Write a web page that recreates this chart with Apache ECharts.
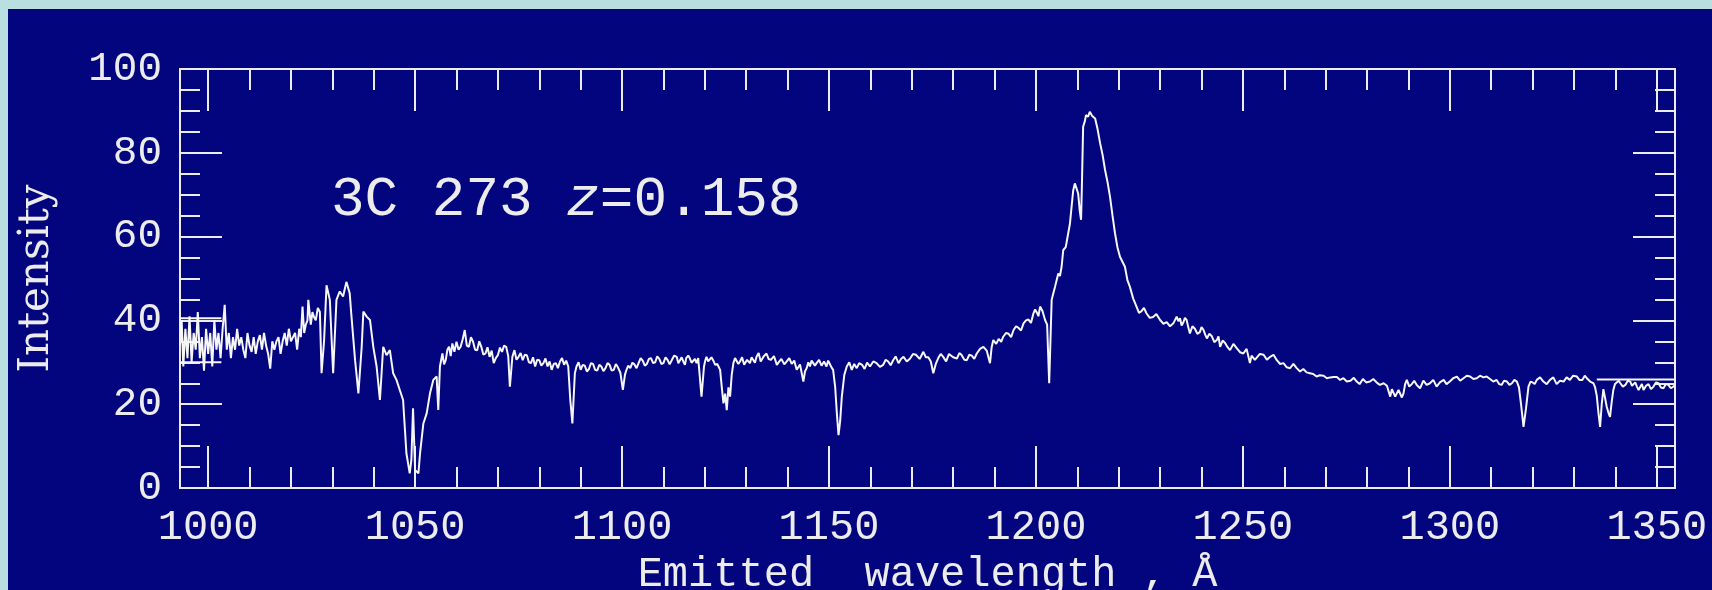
<!DOCTYPE html>
<html>
<head>
<meta charset="utf-8">
<script src="https://cdn.jsdelivr.net/npm/echarts@6/dist/echarts.min.js"></script>
<style>
  html, body { margin: 0; padding: 0; width: 1712px; height: 590px; background: #b9dfe1; overflow: hidden; }
  #chart { position: absolute; left: 8px; top: 9px; width: 1704px; height: 581px; }
</style>
</head>
<body>
<div id="chart"></div>
<script>
// ---- data: [wavelength in Å, intensity] ----
const spectrumBlue = [
  [993.2,34],[993.6,40],[994,29],[994.5,38],[995,31],[995.5,41],[996,30],[996.5,37],[997,33],[997.5,42],
  [998,31],[998.5,36],[999,28],[999.5,38],[1000,32],[1000.5,37],[1001,29],[1001.5,40],[1002,33],[1002.5,37],
  [1003,31],[1003.5,38],[1004,43.7],[1004.5,33],[1005,37],[1005.5,31],[1006,36],[1006.5,33],[1007,38],[1007.5,34],
  [1008,36],[1008.5,33],[1009,31],[1009.5,37],[1010,34],[1010.5,32.5],[1011,36],[1011.5,32],[1012,35],[1012.5,36.5],
  [1013,33],[1013.5,37],[1014,34],[1014.5,32],[1015,28.5],[1015.5,35],[1016,33],[1016.5,35],[1017,36],[1017.5,32],
  [1018,35],[1018.5,37],[1019,34],[1019.5,38],[1020,35],[1020.5,36],[1021,37],[1021.5,33],[1022,38],[1022.4,36],
  [1022.8,43.3],[1023.2,37],[1023.6,39],[1024,40],[1024.2,44.9],[1024.8,39],[1025.2,42],[1025.5,41],[1026,40],[1026.5,43],
  [1027,42],[1027.4,27.4],[1028,35],[1028.6,48.4],[1029.4,44.9],[1030.2,27.4],[1031.0,44.9],[1031.8,46.9],[1032.6,45.7],[1033.4,49.2],
  [1034.2,46.5],[1034.6,41.3],[1035.5,30.5],[1036.3,22.6],[1037.1,33.7],[1037.5,42.1],[1038.3,40.9],[1039.1,40.1],[1039.9,33.7],[1040.7,29],
  [1041.5,21],[1042.3,33.7],[1043.1,31.7],[1043.9,32.9],[1044.7,27.4],[1045.5,25.8],[1046.3,23.4],[1047.1,21],[1047.9,8.3],[1048.7,3.5],
  [1049.1,6.7],[1049.5,19],[1050.0,4.3],[1050.8,3.5],[1051.2,8.3],[1052.0,15.4],[1052.8,17.8],[1053.6,22.6],[1054.4,25.8],[1055.2,26.6],
  [1055.6,18.6]
];
const continuumBlue = [
  [1056.0,29],[1056.6,32.1],[1057.0,29.5],[1057.4,30.5],[1057.8,33],[1058.2,33.7],[1058.6,31.5],[1059,34.5],[1059.5,32.5],[1060,34.9],
  [1060.5,33],[1061,33.7],[1061.5,35.5],[1062,37.7],[1062.5,34],[1063,33.7],[1063.5,36],[1064,34.9],[1064.5,33],[1065,32.9],
  [1065.5,35],[1066,33.7],[1066.5,31.8],[1067,32.1],[1067.5,33.6],[1068,31.3],[1068.5,32.8],[1069,29.8],[1069.5,31],[1070,31.7],
  [1070.5,33.5],[1071,32.5],[1071.5,34],[1072,33.7],[1072.5,31.5],[1072.9,24.2],[1073.5,31.3],[1074,32.9],[1074.5,30.6],[1075,31.3],
  [1075.5,32.2],[1076,30.5],[1076.5,31.8],[1077,31.7],[1077.5,30],[1078,29.8],[1078.5,31.2],[1079,29],[1079.5,30.6],[1080,30.5],
  [1080.5,29.2],[1081,29.8],[1081.5,30.9],[1082,29],[1082.5,30.2],[1083,28.2],[1083.5,29.6],[1084,29.8],[1084.5,28.6],[1085,30.2],
  [1085.5,31],[1086,29.4],[1086.5,30.4],[1087,29],[1087.5,21],[1088,15.4],[1088.6,27.4],[1089,29],[1089.5,30],[1090,28.2],
  [1090.5,29.4],[1091,29.2],[1091.5,27.8],[1092,28.4],[1092.5,29.8],[1093,29.6],[1093.5,28.2],[1094,28],[1094.5,29.4],[1095,29],
  [1095.5,27.9],[1096,28.6],[1096.5,29.8],[1097,29.4],[1097.5,28],[1098,28.2],[1098.5,29.6],[1099,28.8],[1099.6,27.5],[1100.2,23.4],
  [1100.7,27],[1101,28],[1101.5,29.2],[1102,28.6],[1102.5,29.9],[1103,29.5],[1103.5,28.6],[1104,29.8],[1104.5,31],[1105,30.4],
  [1105.5,29.2],[1106,29.6],[1106.5,30.8],[1107,31],[1107.5,29.8],[1108,30],[1108.5,31.4],[1109,30.8],[1109.5,29.6],[1110,29.8],
  [1110.5,31.2],[1111,30.6],[1111.5,29.5],[1112,30.5],[1112.6,31.6],[1113.2,31.3],[1113.6,29.8],[1114,30],[1114.4,31.2],[1114.8,30.2],
  [1115.2,29.4],[1115.5,31],[1116,31.6],[1116.4,30.9],[1116.8,29.9],[1117.2,29.6],[1117.6,30.8],[1118,29.8],[1118.4,31],[1118.7,30.8],
  [1119.2,21.8],[1119.8,29],[1120.1,30.4],[1120.4,31.3],[1120.8,30.2],[1121.2,30],[1121.6,31.2],[1122,30.5],[1122.5,29.4],[1123,29.6],
  [1123.4,30],[1123.7,28.2],[1124.1,24],[1124.5,20.2],[1124.9,22.5],[1125.3,18.6],[1125.7,24],[1126.1,21.8],[1126.5,27],[1126.9,29.8],
  [1127.3,31],[1127.7,30.8],[1128.1,29.6],[1128.5,30.2],[1129,31.2],[1129.5,29.4],[1130.2,30.6],[1130.9,29.8],[1131.3,31.2],[1131.7,30.8],
  [1132.1,29.9],[1132.5,31.3],[1133,32.2],[1133.5,30.2],[1134.2,31.4],[1134.9,32.1],[1135.4,30.8],[1136,30.6],[1136.7,31.5],[1137.4,29.4],
  [1138,30.2],[1138.5,30.8],[1139.2,29.5],[1139.8,30.2],[1140.4,31],[1141,29.6],[1141.6,30.4],[1142.2,28.2],[1143,29.5],[1143.8,25.4],
  [1144.2,27.8],[1144.6,28.6],[1145,30],[1145.4,29],[1145.8,30.4],[1146.2,30.2],[1146.6,29.2],[1147,29.8],[1147.6,30.6],[1148.2,29.2],
  [1148.8,30.2],[1149.4,29],[1149.8,30.4],[1150.2,29.6],[1150.6,28.8],[1151,28.2],[1151.5,24],[1151.9,17.8],[1152.3,12.6],[1152.7,16],
  [1153.1,21.8],[1153.7,27],[1154.3,29],[1154.9,30],[1155.5,28.2],[1156.1,29.6],[1156.7,28.6],[1157.3,29.8],[1158,29.4],[1158.6,28.4],
  [1159.2,29.9],[1159.9,29],[1160.7,30.2],[1161.5,29.8],[1162.3,28.9],[1163.1,29.4],[1163.7,30.6],[1164.3,30.2],[1164.9,29.3],[1165.5,30.5],
  [1166.1,31.4],[1166.8,29.8],[1167.4,30.8],[1168,31.3],[1168.8,30.2],[1169.6,30.9],[1170.3,32],[1171,31.8],[1171.9,30.8],[1172.8,32.5],
  [1173.4,31.2],[1174,31.2],[1174.6,30.2],[1175.2,27.4],[1175.8,29.6],[1176.4,31],[1177,32],[1177.6,31.3],[1178.3,30.2],[1179,32],
  [1180,31.2],[1180.9,30.9],[1181.5,32.2],[1182,31.8],[1182.7,30.6],[1183.3,30.5],[1183.9,31.8],[1184.5,31.6],[1185.1,30.8],[1185.7,32.1],
  [1186.5,33.2],[1187.3,33.7],[1188.1,32.8],[1188.9,29.8],[1189.3,33.6],[1189.7,35.3],[1190.4,34.4],[1191,35.6],[1191.6,34.9],[1192.1,36.1],
  [1192.8,37],[1193.4,36.8],[1194,36],[1194.6,37.7],[1195.2,38.6],[1195.8,38.2],[1196.4,37.6],[1197,39.3],[1197.6,40],[1198.2,40.2],
  [1198.8,39.4],[1199.4,41.7],[1199.8,42.6],[1200.2,41.9],[1200.6,41],[1201,43.3],[1201.6,42.2],[1202.2,40.1],[1202.7,39],[1203.2,25]
];
const lymanAlpha = [
  [1203.8,44.9],[1204.2,46.5],[1204.6,48],[1205.0,49.6],[1205.4,51.2],[1205.8,50.6],[1206.2,52.8],[1206.6,56.8],[1207.2,57.5],[1207.8,60.8],
  [1208.2,63],[1208.6,67],[1209,71],[1209.4,72.7],[1209.8,71.5],[1210.2,70.3],[1210.6,66],[1210.9,64],[1211.1,72],[1211.4,86.2],
  [1211.8,87.5],[1212.1,89],[1212.6,88.6],[1213.0,89.8],[1213.6,88.8],[1214.3,88.2],[1214.9,85.6],[1215.5,82.3],[1216.1,79.5],[1216.7,75.9],
  [1217.3,73],[1217.9,69.5],[1218.5,65],[1219.1,60.8],[1219.7,57.4],[1220.3,55.2],[1220.9,54],[1221.5,52.8],[1222.1,49.6],[1222.7,48],
  [1223.5,45.2]
];
const continuumRed = [
  [1224.3,43.3],[1224.9,41.8],[1225.5,42.2],[1226.1,43],[1226.7,41.7],[1227.5,40.6],[1228.3,40.8],[1229.1,41.5],[1230,40.1],[1230.8,39.2],
  [1231.6,39.6],[1232.4,38.6],[1233.2,39.3],[1234.0,40.9],[1234.4,39.8],[1234.8,40.5],[1235.2,38.8],[1235.6,39.5],[1236,40.6],[1236.4,40.1],
  [1236.8,38.4],[1237.2,36.9],[1237.8,38.6],[1238.4,38],[1239,36.8],[1239.6,37.2],[1240,38.4],[1240.5,37.7],[1240.9,36.6],[1241.3,35.7],
  [1241.9,36.8],[1242.5,36.2],[1243.1,34.8],[1243.7,35.3],[1244.1,36.2],[1244.5,33.7],[1245.1,35.2],[1245.7,34.6],[1246.3,33.6],[1246.9,32.9],
  [1247.7,34.4],[1248.5,33.4],[1249.3,32.4],[1250.1,32.1],[1250.9,33.2],[1251.7,29.8],[1252.1,31.6],[1252.5,32],[1252.9,30.6],[1253.3,30.9],
  [1254.1,32],[1255,31.8],[1255.8,30.6],[1256.6,31.3],[1257.4,31.8],[1258.2,30.5],[1259,29.6],[1259.8,29.8],[1260.6,28.8],[1261.4,28.6],
  [1262.2,29.6],[1263,28.6],[1263.8,27.8],[1264.6,28.4],[1265.4,27.6],[1266.2,27.4],[1267,27.2],[1267.8,26.6],[1268.6,26.9],[1269.5,26.8],
  [1270.3,26.2],[1271.1,26.4],[1271.9,26.5],[1272.7,26.5],[1273.5,25.8],[1274.3,26.2],[1275.1,25.4],[1276,25.6],[1276.8,26.3],[1277.5,25.4],
  [1278.2,24.8],[1279,26],[1279.8,25.2],[1280.7,25.4],[1281.5,26],[1282.3,25.2],[1283.1,24.6],[1284,25],[1284.8,24.4],[1285.6,21.8],
  [1286,23.6],[1286.4,23.2],[1286.8,21.8],[1287.2,21.4],[1287.6,23.4],[1288,23],[1288.4,21.6],[1288.8,22.6],[1289.2,24.8],[1289.6,25.8],
  [1290.2,24.2],[1290.8,24.8],[1291.4,25.6],[1292,24.6],[1292.8,23.8],[1293.6,25.6],[1294.4,24.6],[1295.2,25],[1296,25.8],[1296.8,24.2],
  [1297.6,25.2],[1298.5,25.8],[1299.2,24.8],[1300,25.4],[1300.8,26.2],[1301.7,26.6],[1302.5,25.6],[1303.3,26.2],[1304.1,26.8],[1304.9,26.6],
  [1305.7,26],[1306.5,26.2],[1307.3,26.8],[1308.1,26.4],[1308.9,26.6],[1309.7,26],[1310.5,25.4],[1311.3,25.8],[1311.9,24.8],[1312.5,24.6],
  [1313.1,25.6],[1313.8,25.4],[1314.4,24.6],[1315,25],[1315.6,25.8],[1316.2,25.4],[1316.7,24],[1317.2,20],[1317.8,14.6],[1318.4,19],
  [1319,24.2],[1319.5,25.4],[1320,25.2],[1320.5,24.8],[1321,25.8],[1321.8,26.4],[1322.6,25.4],[1323.4,24.8],[1324.2,25.8],[1325,26.4],
  [1325.8,24.8],[1326.6,25.6],[1327.5,25.4],[1328.2,26.4],[1329,25.8],[1329.8,26.8],[1330.7,26.6],[1331.3,25.8],[1332,25.8],[1332.6,26.8],
  [1333.1,26.2],[1333.9,25.4],[1334.7,25],[1335.1,24],[1335.5,22],[1335.9,18],[1336.3,14.6],[1336.7,20],[1337.1,23.6],[1337.5,21.5],
  [1337.9,19.4],[1338.3,18],[1338.7,17],[1339.1,20.5],[1339.5,23.4],[1339.9,24.8],[1340.3,24.4],[1340.8,25.6],[1341.2,25],[1341.8,24.2],
  [1342.4,24.6],[1343,25.6],[1343.6,25.4],[1344,24.4],[1344.4,24.2],[1344.8,25.2],[1345.2,24.2],[1345.6,23.4],[1346,23.8],[1346.4,24.8],
  [1346.8,23.4],[1347.4,24.4],[1348,24.8],[1348.6,23.6],[1349.2,24.2],[1349.8,25.2],[1350.4,25],[1351,24],[1351.6,23.8],[1352.2,24.8],
  [1352.8,24.6],[1353.4,23.8],[1354,24.2],[1354.4,24.6]
];
// short horizontal strokes where the plotted spectrum segments join
const joinUpperLeft = [[993.2, 40.5], [1003.2, 40.5]];
const joinLowerLeft = [[993.2, 30.0], [1003.2, 30.0]];
const joinRight = [[1335.5, 25.9], [1354.4, 25.9]];

const xMajorTicks = [1000, 1050, 1100, 1150, 1200, 1250, 1300, 1350];
const xMinorTicks = [1010, 1020, 1030, 1040, 1060, 1070, 1080, 1090, 1110, 1120, 1130, 1140,
  1160, 1170, 1180, 1190, 1210, 1220, 1230, 1240, 1260, 1270, 1280, 1290, 1310, 1320, 1330, 1340];
const xRange = [993.2, 1354.4];
const yRange = [0, 100];
const yStep = 20;

const titleText = '3C 273';
const redshiftText = '=0.158';
const xTitle = 'Emitted  wavelength , Å';
const yTitle = 'Intensity';

// ---- chart ----
const fg = '#ececec';
const lineColor = '#f6f6f6';
const mono = '"Liberation Mono", "DejaVu Sans Mono", monospace';
const lineW = 2;

function xAxisDef(position, ticks, len, withLabels) {
  const ax = {
    type: 'value', position: position, min: xRange[0], max: xRange[1],
    axisLine: { show: true, onZero: false, lineStyle: { color: fg, width: lineW } },
    axisTick: { show: true, inside: true, length: len, customValues: ticks, lineStyle: { color: fg, width: lineW } },
    axisLabel: { show: false },
    splitLine: { show: false }
  };
  if (withLabels) {
    ax.axisLabel = {
      show: true, customValues: ticks, color: fg, fontFamily: mono, fontSize: 42, margin: 19,
      formatter: function (v) { return String(v); }
    };
    ax.name = xTitle;
    ax.nameLocation = 'middle';
    ax.nameGap = 57;
    ax.nameTextStyle = { color: fg, fontFamily: mono, fontSize: 42 };
  }
  return ax;
}
function yAxisDef(position, withLabels) {
  const ax = {
    type: 'value', position: position, min: yRange[0], max: yRange[1], interval: yStep,
    axisLine: { show: true, onZero: false, lineStyle: { color: fg, width: lineW } },
    axisTick: { show: true, inside: true, length: 42, lineStyle: { color: fg, width: lineW } },
    minorTick: { show: true, splitNumber: 4, length: 20, lineStyle: { color: fg, width: lineW } },
    axisLabel: { show: false },
    splitLine: { show: false }
  };
  if (withLabels) {
    ax.axisLabel = {
      show: true, color: fg, fontFamily: mono, fontSize: 41, margin: 18, padding: [4, 0, 0, 0],
      formatter: function (v) { return String(v); }
    };
    ax.name = yTitle;
    ax.nameLocation = 'middle';
    ax.nameGap = 122;
    ax.nameTextStyle = { color: fg, fontFamily: '"DejaVu Serif", serif', fontSize: 42 };
  }
  return ax;
}
function lineSeries(data) {
  return {
    type: 'line', xAxisIndex: 0, yAxisIndex: 0, showSymbol: false, symbol: 'none',
    lineStyle: { color: lineColor, width: 2 }, data: data
  };
}

const chart = echarts.init(document.getElementById('chart'), null, { renderer: 'canvas' });
chart.setOption({
  animation: false,
  backgroundColor: '#03057f',
  grid: { left: 172, top: 60, right: 37, bottom: 102, containLabel: false, outerBoundsMode: 'none' },
  title: {
    left: 318, top: 158,
    text: '{a|' + titleText + ' }{i|z}{a|' + redshiftText + '}',
    textStyle: {
      fontWeight: 'normal',
      rich: {
        a: { color: fg, fontFamily: mono, fontSize: 56, fontWeight: 'normal' },
        i: { color: fg, fontFamily: mono, fontSize: 56, fontWeight: 'normal', fontStyle: 'italic' }
      }
    }
  },
  xAxis: [
    xAxisDef('bottom', xMajorTicks, 42, true),
    xAxisDef('bottom', xMinorTicks, 21, false),
    xAxisDef('top', xMajorTicks, 42, false),
    xAxisDef('top', xMinorTicks, 21, false)
  ],
  yAxis: [yAxisDef('left', true), yAxisDef('right', false)],
  series: [
    lineSeries(spectrumBlue.concat(continuumBlue, lymanAlpha, continuumRed)),
    lineSeries(joinUpperLeft),
    lineSeries(joinLowerLeft),
    lineSeries(joinRight)
  ]
});
</script>
</body>
</html>
